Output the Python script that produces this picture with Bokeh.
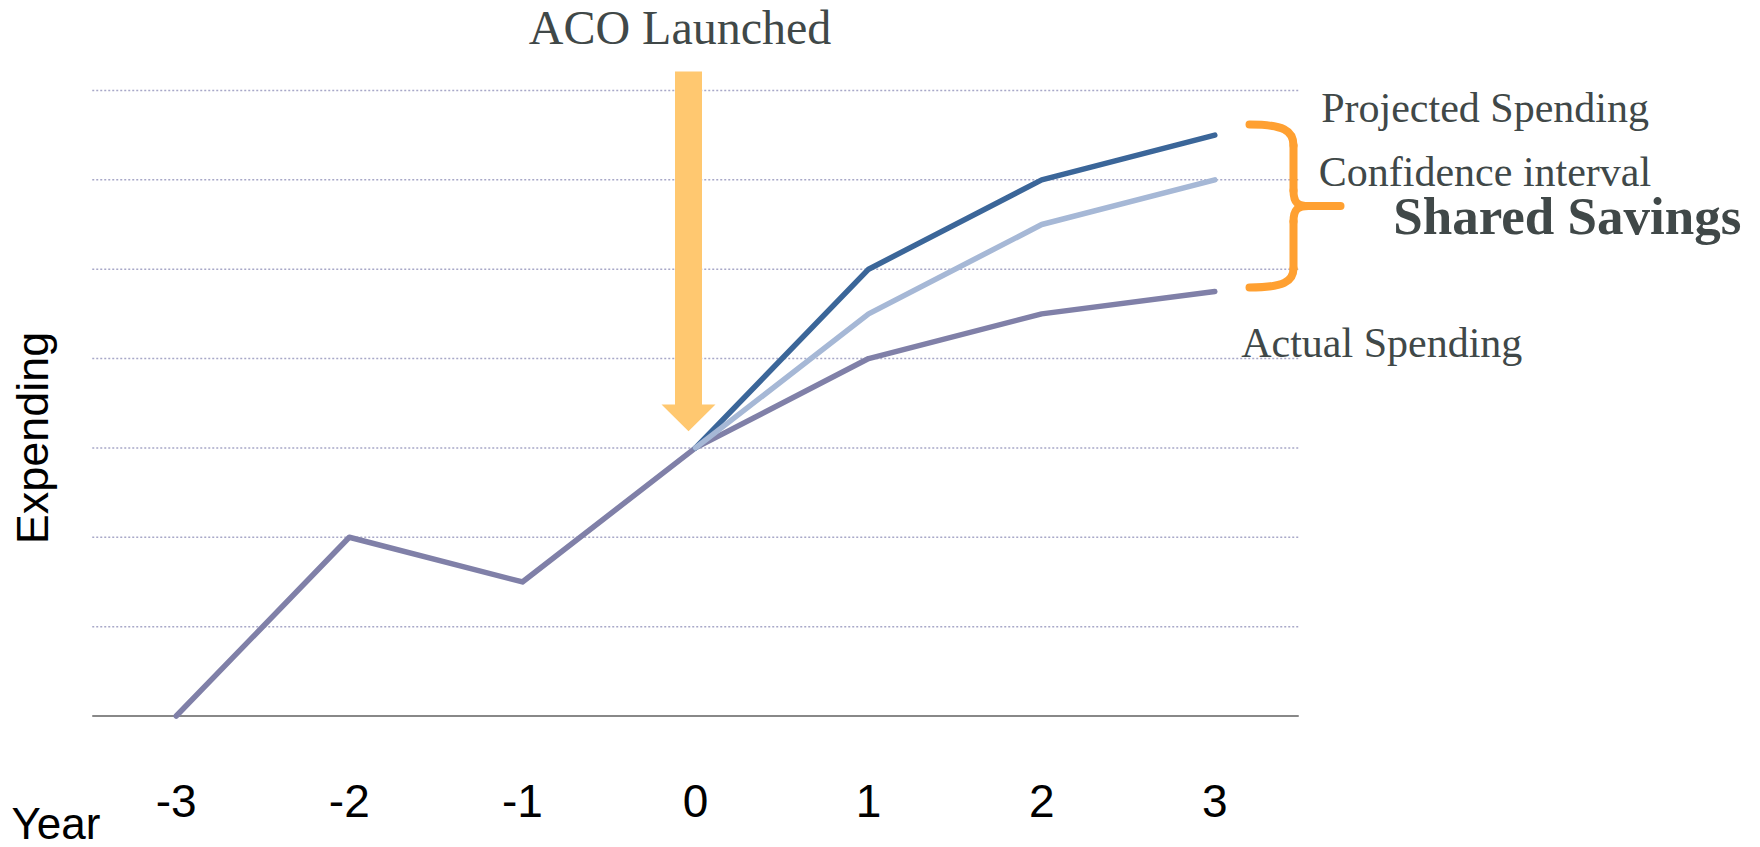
import math
from bokeh.plotting import figure
from bokeh.models import Range1d, Label
from bokeh.core.properties import value
from bokeh.embed import file_html
from bokeh.resources import INLINE

# ---- data ----
YEARS = [-3, -2, -1, 0, 1, 2, 3]
ACTUAL = [0, 2, 1.5, 3, 4, 4.5, 4.75]
PROJ_YEARS = [0, 1, 2, 3]
PROJECTED = [3, 5, 6, 6.5]
CONFIDENCE = [3, 4.5, 5.5, 6]
GRID_LEVELS = [1, 2, 3, 4, 5, 6, 7]
TICK_LABELS = ["-3", "-2", "-1", "0", "1", "2", "3"]
LAUNCH_YEAR = 0

# ---- layout ----
W, H = 1760, 847
PX_X = 173.1            # pixels per year
PX_Y = 89.36            # pixels per spending unit
X_START = -695 / PX_X
X_END = X_START + W / PX_X
Y_END = 715.5 / PX_Y
Y_START = Y_END - H / PX_Y


def dx(sx):
    return X_START + sx / PX_X


def dy(sy):
    return Y_END - sy / PX_Y


SERIF = "Liberation Serif"
SANS = "Liberation Sans"
TEXT_GREY = "#404848"
LINE_W = 5.5

p = figure(width=W, height=H, x_range=Range1d(X_START, X_END), y_range=Range1d(Y_START, Y_END),
           output_backend="svg", toolbar_location=None, x_axis_location=None, y_axis_location=None,
           min_border=0)
p.outline_line_color = None
p.xgrid.visible = False
p.ygrid.visible = False
p.background_fill_color = "white"
p.border_fill_color = "white"

# dotted horizontal grid, limited to the year span
lo = min(YEARS) - 0.485
hi = max(YEARS) + 0.485
p.segment(x0=[lo] * len(GRID_LEVELS), y0=GRID_LEVELS, x1=[hi] * len(GRID_LEVELS), y1=GRID_LEVELS,
          line_color="#a8a8c8", line_width=1.5, line_dash="2 2")

# baseline (x axis line)
p.segment(x0=[lo], y0=[0], x1=[hi], y1=[0], line_color="#888888", line_width=2)

# year tick labels
p.text(x=YEARS, y=[dy(800)] * len(YEARS), text=TICK_LABELS, text_align="center",
       text_baseline="alphabetic", text_font=value(SANS), text_font_size="46px", text_color="black")

# "ACO Launched" arrow
arrow_x = LAUNCH_YEAR - 7 / PX_X
shaft = 13.5 / PX_X
head = 27 / PX_X
a_top, a_neck, a_tip = dy(71), dy(404), dy(430.7)
p.patch(x=[arrow_x - shaft, arrow_x + shaft, arrow_x + shaft, arrow_x + head, arrow_x,
           arrow_x - head, arrow_x - shaft],
        y=[a_top, a_top, a_neck, a_neck, a_tip, a_neck, a_neck],
        fill_color="#FFC870", line_color=None)

# series
p.line(YEARS, ACTUAL, line_color="#8080a8", line_width=LINE_W, line_cap="round", line_join="round")
p.line(PROJ_YEARS, PROJECTED, line_color="#3b6699", line_width=LINE_W, line_cap="round", line_join="round")
p.line(PROJ_YEARS, CONFIDENCE, line_color="#a6b8d6", line_width=LINE_W, line_cap="round", line_join="round")

# curly brace (shared savings)
BRACE = "#FFA031"
bz = [  # (p0, c0, c1, p1) in screen px
    ((1249, 124), (1283, 124), (1293, 130), (1293, 145)),
    ((1293, 190), (1293, 202), (1297, 205.5), (1308, 205.5)),
    ((1308, 205.5), (1297, 205.5), (1293, 209), (1293, 221)),
    ((1293, 268), (1293, 281), (1283, 287), (1249, 287)),
]
p.bezier(x0=[dx(b[0][0]) for b in bz], y0=[dy(b[0][1]) for b in bz],
         cx0=[dx(b[1][0]) for b in bz], cy0=[dy(b[1][1]) for b in bz],
         cx1=[dx(b[2][0]) for b in bz], cy1=[dy(b[2][1]) for b in bz],
         x1=[dx(b[3][0]) for b in bz], y1=[dy(b[3][1]) for b in bz],
         line_color=BRACE, line_width=8, line_cap="round")
segs = [((1293, 145), (1293, 190)), ((1308, 205.5), (1340, 205.5)), ((1293, 221), (1293, 268))]
p.segment(x0=[dx(s[0][0]) for s in segs], y0=[dy(s[0][1]) for s in segs],
          x1=[dx(s[1][0]) for s in segs], y1=[dy(s[1][1]) for s in segs],
          line_color=BRACE, line_width=8, line_cap="round")


# texts
def label(text, sx, sy, size, align="left", font=SERIF, color=TEXT_GREY, style="normal", angle=0):
    p.add_layout(Label(x=dx(sx), y=dy(sy), text=text, text_align=align, text_baseline="alphabetic",
                       text_font=font, text_font_size=size, text_color=color,
                       text_font_style=style, angle=angle))


label("ACO Launched", 679.5, 26.5, "48px", align="center")
label("Projected Spending", 1320.7, 107, "42px")
label("Confidence interval", 1318.3, 171.5, "42px")
label("Shared Savings", 1392.7, 215, "53px", style="bold")
label("Actual Spending", 1240.7, 342, "42px")
label("Expending", 31.5, 437.5, "45px", align="center", font=SANS, color="black", angle=math.pi / 2)
label("Year", 11, 823, "44px", font=SANS, color="black")

open("out.html", "w").write(file_html(p, INLINE))
